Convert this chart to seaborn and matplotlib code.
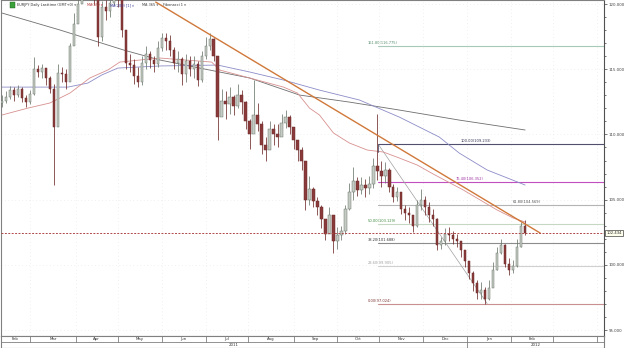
import numpy as np
import pandas as pd
import seaborn as sns
import matplotlib.pyplot as plt
from matplotlib.ticker import MultipleLocator, FormatStrFormatter
from matplotlib.transforms import blended_transform_factory

# EUR/JPY daily, every second trading day from 9 Feb 2011
first_open = 112.4
close = [112.6, 112.9, 113.4, 113.0, 113.5, 112.8, 112.5, 113.1,
         115.0, 114.8, 115.1, 114.3, 113.5,
         110.6, 114.7, 114.6, 114.0, 116.8, 118.5, 120.0,
         122.0, 123.0, 122.0, 120.5, 117.5, 119.8, 119.5, 120.1, 121.5, 121.0, 118.0, 115.5,
         115.3, 114.5, 114.0, 115.5, 116.2, 115.7, 115.4, 116.6,
         117.4, 117.2, 116.5, 115.5, 115.8, 114.6, 115.6, 115.0, 115.4, 114.2, 116.0, 116.8, 117.3, 116.0, 111.3,
         112.6, 112.3, 112.9, 112.2, 113.0, 112.5, 111.0, 110.0, 111.5, 110.8,
         109.2, 108.8, 110.4, 110.0, 109.8, 110.9, 111.3, 110.6, 109.6, 108.8,
         108.0, 105.0, 105.8, 104.9, 104.4, 103.5, 102.4, 103.8, 101.8, 102.3,
         102.6, 104.3, 105.6, 106.4, 105.7, 106.1, 105.9, 106.2, 107.6, 107.2,
         106.8, 107.3, 106.0, 105.2, 105.6, 104.3, 104.0, 103.8, 103.0, 104.6, 105.0, 104.4,
         103.8, 103.5, 101.5, 101.8, 102.4, 102.3, 102.0, 101.8, 101.1, 100.3,
         99.4, 98.6, 97.8, 98.1, 97.4, 98.2, 99.6, 100.9, 101.5, 100.1,
         99.6, 99.9, 101.4, 103.0, 102.434]
high = [113.0, 113.3, 113.7, 113.6, 113.8, 113.6, 113.0, 113.4,
        115.9, 115.3, 115.4, 115.0, 114.5,
        113.9, 115.4, 115.2, 115.0, 117.0, 119.3, 120.5,
        122.8, 123.3, 123.0, 121.8, 120.4, 120.2, 120.3, 120.8, 122.0, 122.0, 120.5, 117.8,
        116.2, 115.8, 115.2, 116.0, 116.8, 116.4, 116.0, 117.2,
        117.8, 117.8, 117.6, 116.7, 116.4, 115.9, 116.2, 116.0, 116.0, 115.6, 116.4, 117.5, 117.8, 117.4, 116.0,
        113.5, 113.3, 113.6, 113.0, 113.9, 113.4, 112.6, 111.2, 114.2, 112.4,
        111.0, 109.8, 111.0, 110.8, 110.8, 111.6, 111.9, 111.5, 110.6, 109.6,
        109.0, 107.8, 106.8, 106.0, 105.2, 104.6, 103.4, 104.4, 103.6, 102.9,
        103.0, 104.6, 106.3, 107.5, 106.7, 106.7, 106.6, 106.8, 108.2, 111.6,
        108.0, 107.9, 107.4, 106.2, 106.0, 105.3, 104.6, 104.4, 103.7, 105.0, 105.8, 105.3,
        104.8, 104.3, 103.6, 102.1, 102.8, 102.9, 102.6, 102.4, 101.8, 101.0,
        100.3, 99.5, 98.8, 98.7, 98.3, 98.8, 100.2, 101.4, 102.0, 101.6,
        100.5, 100.4, 102.0, 103.3, 103.4]
low = [112.1, 112.4, 112.7, 112.6, 112.9, 112.5, 112.1, 112.3,
       113.0, 114.4, 114.3, 113.8, 113.2,
       106.1, 110.8, 114.0, 113.5, 114.2, 117.0, 118.6,
       120.8, 121.8, 121.0, 119.9, 116.8, 117.2, 118.8, 119.0, 119.9, 119.8, 117.5, 115.0,
       114.8, 113.9, 113.6, 113.8, 115.0, 115.1, 114.8, 115.2,
       116.4, 116.5, 116.0, 115.0, 114.8, 113.8, 114.0, 114.5, 114.3, 113.7, 114.0, 115.8, 116.5, 115.6, 109.6,
       111.5, 111.2, 111.6, 111.5, 112.0, 111.6, 110.4, 108.9, 110.2, 110.3,
       108.5, 108.0, 109.4, 109.2, 109.0, 110.0, 110.5, 110.0, 108.9, 108.0,
       107.3, 104.2, 104.6, 104.4, 103.8, 102.8, 101.9, 102.6, 100.9, 101.2,
       101.9, 102.4, 104.2, 105.0, 105.3, 105.4, 105.2, 105.4, 105.9, 106.5,
       106.0, 106.3, 105.6, 104.8, 104.9, 103.9, 103.4, 103.2, 102.5, 102.9, 104.2, 103.8,
       103.3, 103.0, 101.1, 101.2, 101.5, 101.8, 101.6, 101.4, 100.6, 99.8,
       98.9, 98.0, 97.4, 97.4, 97.0, 97.3, 98.5, 99.6, 100.8, 99.8,
       99.2, 99.4, 99.8, 101.4, 102.3]

# moving averages, x = trading days since 1 Mar 2011
ma55_day = [-14, -1, 10, 20, 30, 39, 45, 65, 91, 95, 110, 127, 134, 140, 145, 152,
            160, 169, 177, 185, 194, 202, 217, 234, 242, 248]
ma55 = [111.49, 112.02, 112.41, 113.17, 114.33, 114.94, 115.55, 115.86, 115.55, 114.94,
        114.33, 113.63, 113.17, 112.02, 111.49, 110.11, 109.34, 108.80, 108.65, 108.19,
        107.65, 106.96, 105.74, 104.20, 103.59, 103.28]
ma200_day = [-14, 19, 29, 36, 44, 65, 94, 110, 127, 145, 165, 185, 205, 215, 229, 248]
ma200 = [113.63, 113.63, 113.94, 114.56, 115.09, 115.25, 115.32, 114.79, 114.17, 113.40,
         112.64, 111.33, 109.80, 108.57, 107.27, 106.12]
ma365_day = [-14, 15, 47, 65, 85, 110, 135, 160, 185, 215, 248]
ma365 = [119.31, 118.01, 116.47, 115.71, 115.09, 114.33, 113.02, 112.48, 111.87, 111.10, 110.34]

trend_day = [63, 255.5]
trend_px = [120.15, 102.44]

fib_names = ["161.80", "100.00", "76.40", "61.80", "50.00", "38.20", "23.60", "0.00"]
fib_levels = [116.775, 109.233, 106.352, 104.569, 103.129, 101.688, 99.905, 97.024]
fib_line_cols = ["#a8c8b8", "#50506e", "#c050c0", "#b4b4b4", "#c4d8c4", "#8c8c8c", "#d0d0d0", "#c89090"]
fib_text_cols = ["#5a9070", "#303050", "#a030a0", "#505050", "#3c8a3c", "#303030", "#a0a0a0", "#803838"]
fib_label_day = [169, 215.5, 213, 242, 169, 169, 169, 169]
fib_start_day = 174.5
fib_low_day = 229

month_names = ["Feb", "Mar", "Apr", "May", "Jun", "Jul", "Aug", "Sep", "Oct", "Nov", "Dec",
               "Jan", "Feb", "", ""]
last_price = 102.434

# ---------------------------------------------------------------
sns.set_style("white")
plt.rcParams["font.family"] = ["DejaVu Sans"]

base = np.datetime64("2011-03-01")
bar_dates = pd.bdate_range("2011-02-09", periods=len(close) * 2, freq="B")[::2]
x = np.busday_count(base, bar_dates.values.astype("datetime64[D]"))
close = np.array(close)
opens = np.r_[first_open, close[:-1]]
up = close >= opens

fig = plt.figure(figsize=(6.25, 3.48), dpi=100)
ax = fig.add_axes([1 / 625, 12 / 348, 603 / 625, 336 / 348])
axb = fig.add_axes([1 / 625, 0, 603 / 625, 12 / 348], sharex=ax)

x0, x1 = -14.5, 287.5
ax.set_xlim(x0, x1)
ax.set_ylim(94.54, 120.31)

month_starts = pd.date_range("2011-02-01", "2012-04-01", freq="MS")
ms_x = np.busday_count(base, month_starts.values.astype("datetime64[D]"))

# faint grid
for m in ms_x:
    ax.axvline(m, color="#e4e4e4", lw=0.5, ls=(0, (1, 4)), zorder=0)
for p in range(95, 121, 5):
    ax.axhline(p, color="#e4e4e4", lw=0.5, ls=(0, (1, 4)), zorder=0)

# moving averages
sns.lineplot(x=ma365_day, y=ma365, ax=ax, color="#6e6e6e", lw=0.6, zorder=2)
sns.lineplot(x=ma200_day, y=ma200, ax=ax, color="#8c8cc8", lw=0.6, zorder=2)
sns.lineplot(x=ma55_day, y=ma55, ax=ax, color="#d89090", lw=0.6, zorder=2)

# fibonacci tool
for name, lvl, lc, tc, lx in zip(fib_names, fib_levels, fib_line_cols, fib_text_cols, fib_label_day):
    ax.plot([fib_start_day, x1], [lvl, lvl], color=lc, lw=0.8, zorder=1)
    ax.text(lx, lvl + 0.08, f"{name}({lvl:.3f})", fontsize=2.6, color=tc, va="bottom", ha="left")
ax.plot([fib_start_day, fib_low_day], [fib_levels[1], fib_levels[-1]], color="#a0a0a0", lw=0.5, zorder=1)
ax.plot([fib_start_day, fib_start_day], [fib_levels[1], fib_levels[1] - 0.6], color="#50506e", lw=0.6)

# candles
up_fill, up_edge = "#c4cac4", "#6c786c"
dn_fill, dn_edge = "#8a3a3a", "#6e2a2a"
ax.vlines(x, low, high, colors=np.where(up, up_edge, dn_edge), lw=0.55, zorder=3)
ax.bar(x, np.maximum(np.abs(close - opens), 0.05), bottom=np.minimum(opens, close), width=1.15,
       color=np.where(up, up_fill, dn_fill), edgecolor=np.where(up, up_edge, dn_edge), lw=0.35, zorder=4)

# trend line
sns.lineplot(x=trend_day, y=trend_px, ax=ax, color="#d0783a", lw=1.0, zorder=5)

# last price
ax.axhline(last_price, color="#b04848", lw=0.7, ls=(0, (2, 1.5)), zorder=5)
tr = blended_transform_factory(ax.transAxes, ax.transData)
ax.text(1.004, last_price, f"{last_price:.3f}", transform=tr, fontsize=2.7, va="center", ha="left",
        clip_on=False, bbox=dict(boxstyle="square,pad=0.25", fc="#ffffee", ec="#404040", lw=0.5))

# axes styling
ax.yaxis.tick_right()
ax.yaxis.set_major_locator(MultipleLocator(5))
ax.yaxis.set_minor_locator(MultipleLocator(1))
ax.yaxis.set_major_formatter(FormatStrFormatter("%.3f"))
ax.tick_params(axis="y", which="major", length=2.5, width=0.5, labelsize=2.8, pad=1,
               colors="#404040", right=True, left=False)
ax.tick_params(axis="y", which="minor", length=1.5, width=0.5, colors="#404040", right=True, left=False)
ax.tick_params(axis="x", bottom=False, labelbottom=False)
for s in ax.spines.values():
    s.set_color("#808080")
    s.set_linewidth(0.8)
ax.spines["right"].set_color("#505050")
ax.set_xlabel("")
ax.set_ylabel("")

# date band
axb.set_ylim(0, 2)
axb.set_yticks([])
axb.tick_params(axis="x", bottom=False, labelbottom=False)
axb.axhline(1, color="#808080", lw=0.6)
for m in ms_x:
    axb.plot([m, m], [1, 2], color="#808080", lw=0.6)
edges = np.r_[x0, ms_x[1:]]
for i, name in enumerate(month_names):
    lo = max(edges[i], x0)
    hi = min(edges[i + 1], x1) if i + 1 < len(edges) else x1
    if name:
        axb.text((lo + hi) / 2, 1.5, name, fontsize=2.8, ha="center", va="center", color="#303030")
jan12 = ms_x[list(month_starts).index(pd.Timestamp("2012-01-01"))]
axb.plot([jan12, jan12], [0, 1], color="#808080", lw=0.6)
axb.text((x0 + jan12) / 2, 0.5, "2011", fontsize=2.8, ha="center", va="center", color="#303030")
axb.text((jan12 + x1) / 2, 0.5, "2012", fontsize=2.8, ha="center", va="center", color="#303030")
for s in axb.spines.values():
    s.set_color("#808080")
    s.set_linewidth(0.8)

# header
fig.patches.append(plt.Rectangle((10 / 625, 1 - 8 / 348), 5 / 625, 6 / 348, transform=fig.transFigure,
                                 fc="#3aa03a", ec="#206020", lw=0.3))
hy = 1 - 5 / 348
items = [(17, "EURJPY Daily Lasttime (GMT+0) \u25be", "#303030"),
         (87, "MA(55) \u25be", "#b83a3a"),
         (110, "MA(200) [1] \u25be", "#3a3a9a"),
         (142, "MA 365 \u25be", "#404040"),
         (163, "Fibonacci 1 \u25be", "#303030")]
for px, txt, col in items:
    fig.text(px / 625, hy, txt, fontsize=2.5, color=col, va="center", ha="left")

fig.savefig("out.png", dpi=100)
